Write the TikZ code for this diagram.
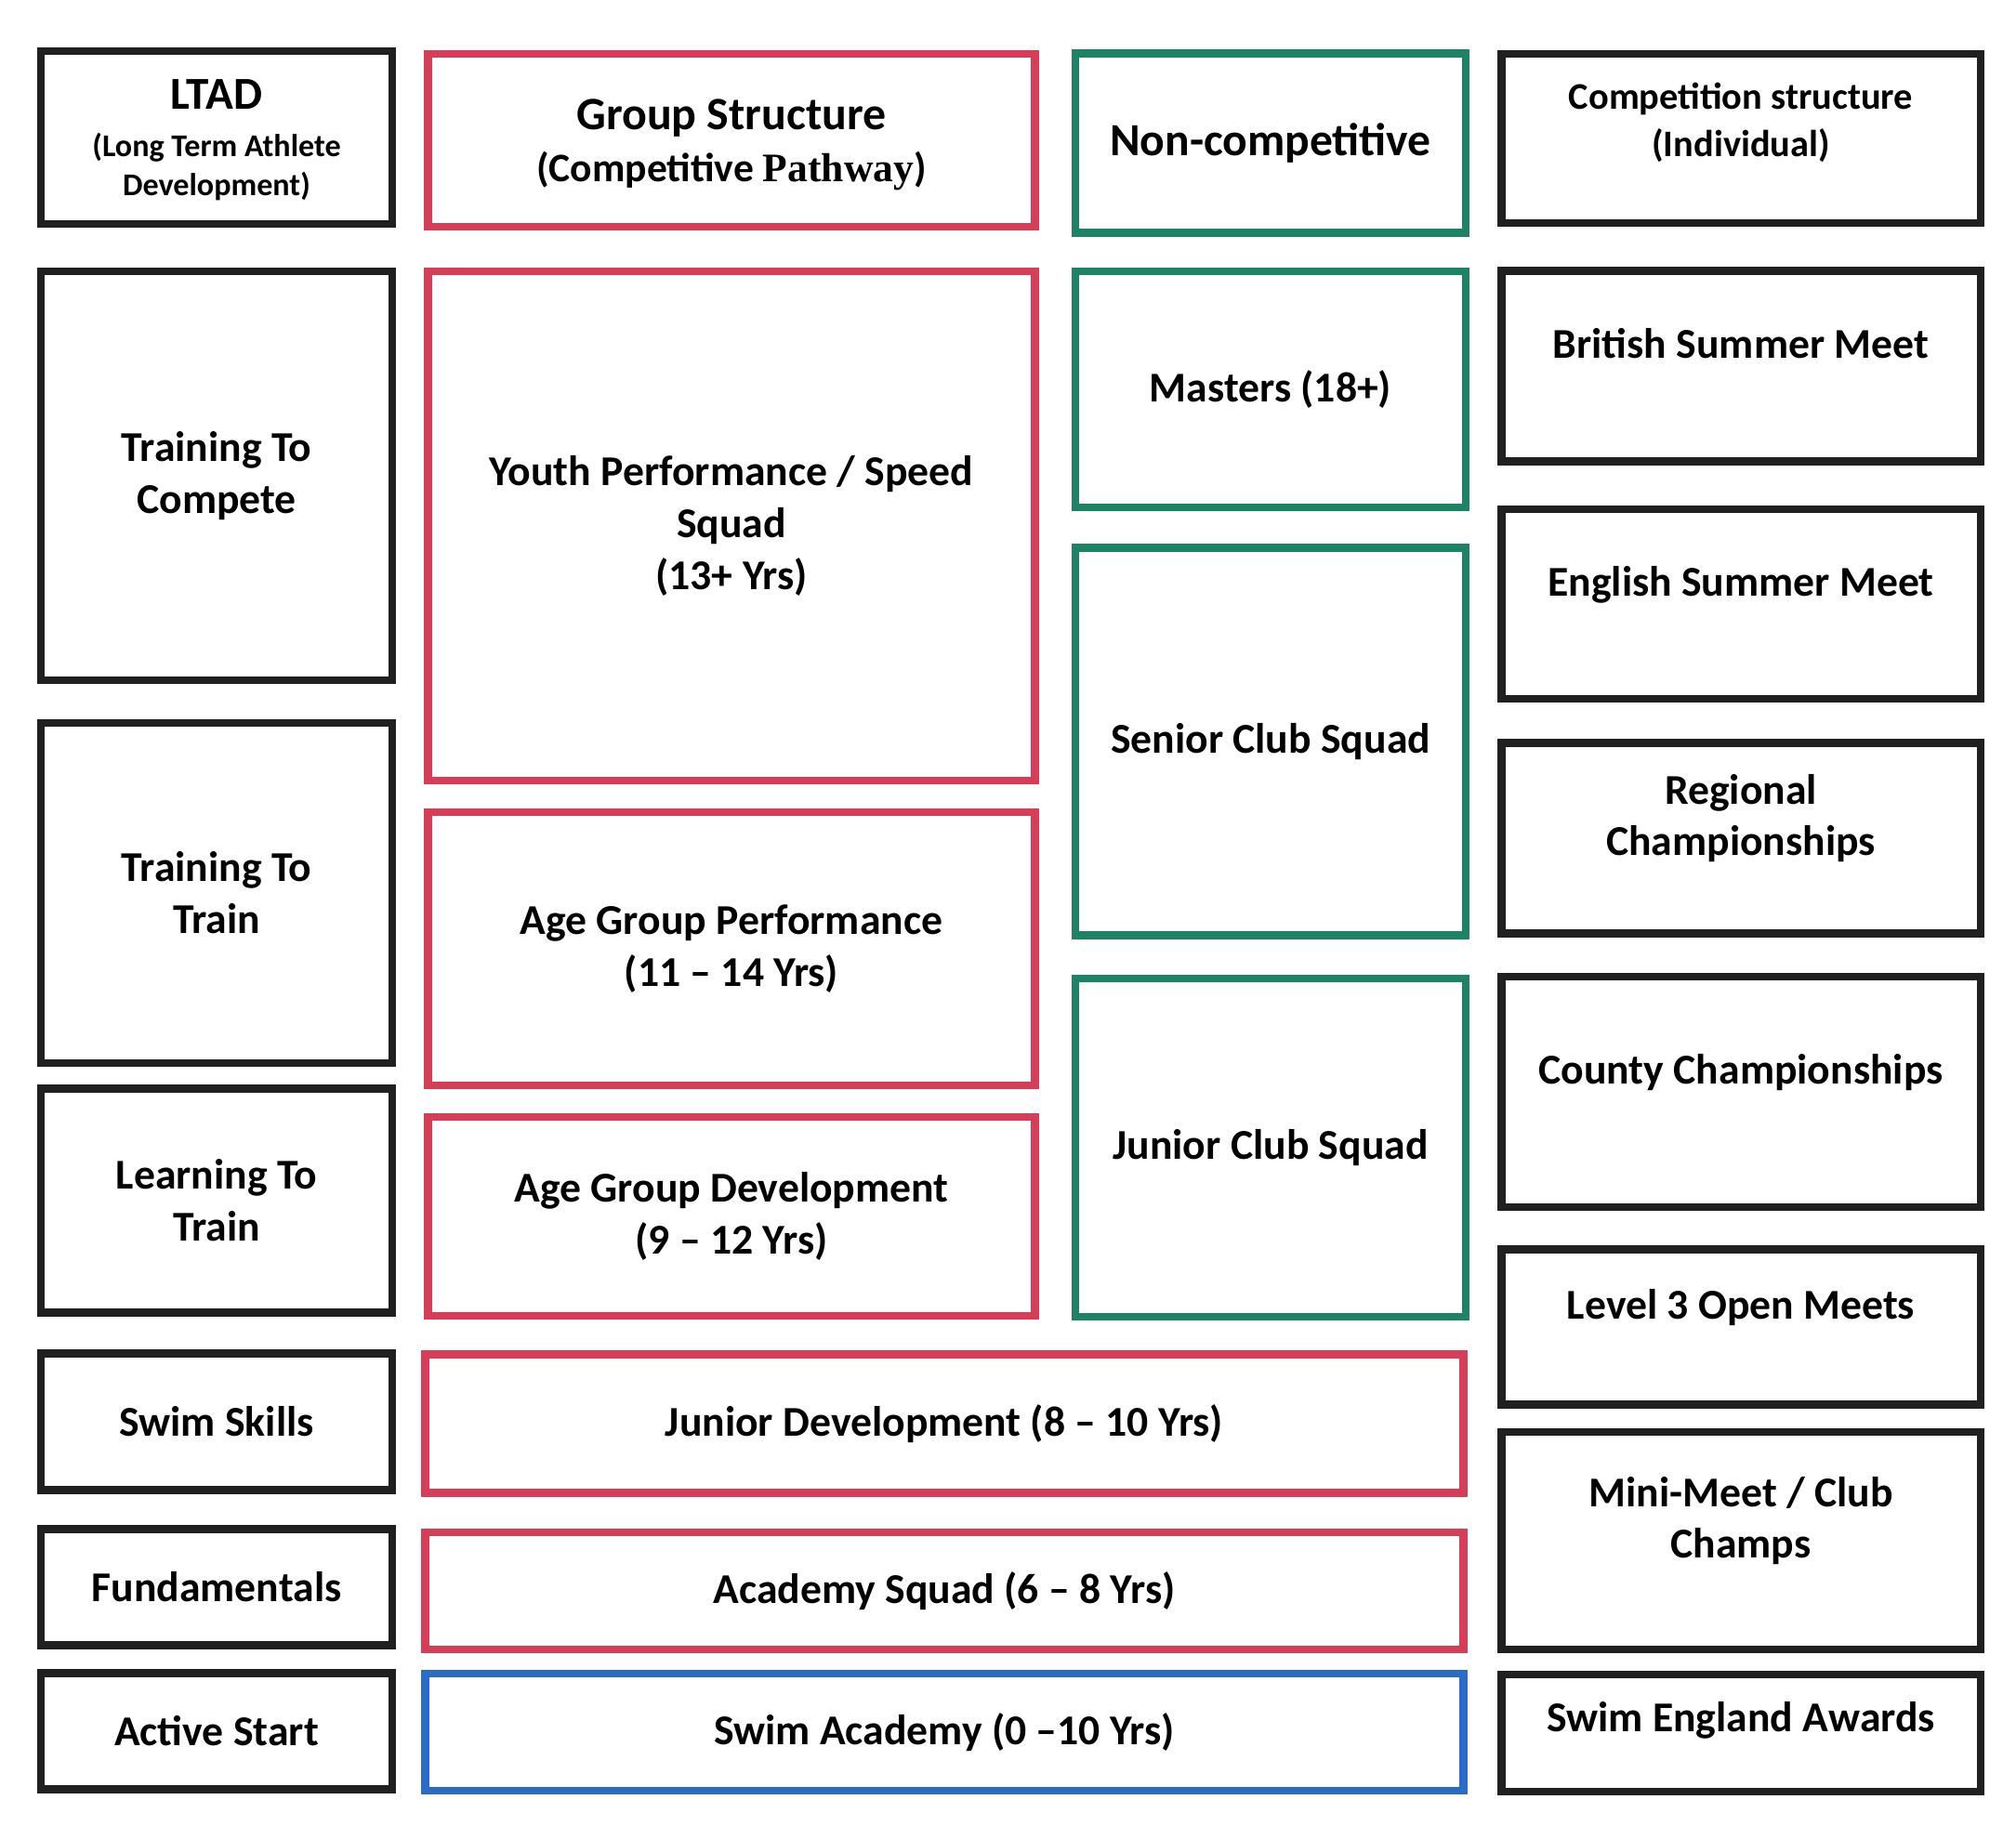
\documentclass[tikz,border=0pt]{standalone}
\usepackage{fontspec}
\setmainfont{Carlito}
\newfontfamily\pathfont{Liberation Serif}
\newcommand{\ltadsub}{\fontsize{9.7}{11.8}\selectfont}
\newcommand{\compsub}{\fontsize{11.5}{14.5}\selectfont}
\definecolor{ltadblack}{RGB}{32,32,32}
\definecolor{groupred}{RGB}{214,62,88}
\definecolor{noncompgreen}{RGB}{28,132,100}
\definecolor{academyblue}{RGB}{40,108,200}
\begin{document}
\begin{tikzpicture}[
	box/.style={draw=#1, line width=2.3pt, align=center, inner sep=2pt,
		font=\bfseries\fontsize{13}{15.9}\selectfont},
	box/.default=ltadblack,
	wh/.style 2 args={minimum width=#1cm, minimum height=#2cm},
	upper/.style={text depth=#1cm},
	upper/.default=0.5
	]
	\useasboundingbox (0,0) rectangle (21.69,-19.78);
	% LTAD column
	\node[box, wh={3.78}{1.86}, font=\bfseries\ltadsub, upper=0] (ltad) at (2.33,-1.48)
		{\fontsize{14}{17}\selectfont LTAD\\[2.7pt]
		(Long Term Athlete\\Development)};
	\node[box, wh={3.78}{4.40}] (ttc) at (2.33,-5.12) {Training To\\Compete};
	\node[box, wh={3.78}{3.66}] (ttt) at (2.33,-9.61) {Training To\\Train};
	\node[box, wh={3.78}{2.41}] (ltt) at (2.33,-12.92) {Learning To\\Train};
	\node[box, wh={3.78}{1.47}] (skills) at (2.33,-15.30) {Swim Skills};
	\node[box, wh={3.78}{1.25}] (fund) at (2.33,-17.08) {Fundamentals};
	\node[box, wh={3.78}{1.25}] (active) at (2.33,-18.63) {Active Start};
	% group structure column
	\node[box=groupred, wh={6.53}{1.86}, upper=0] (group) at (7.87,-1.51)
		{\fontsize{14.2}{17}\selectfont Group Structure\\
		\fontsize{12.4}{15}\selectfont (Competitive {\pathfont Pathway})};
	\node[box=groupred, wh={6.53}{5.48}] (youth) at (7.87,-5.66)
		{Youth Performance / Speed\\Squad\\(13+ Yrs)};
	\node[box=groupred, wh={6.53}{2.94}] (agp) at (7.87,-10.21)
		{Age Group Performance\\(11 -- 14 Yrs)};
	\node[box=groupred, wh={6.53}{2.14}] (agd) at (7.87,-13.09)
		{Age Group Development\\(9 -- 12 Yrs)};
	\node[box=groupred, wh={11.17}{1.49}] (jdev) at (10.16,-15.32)
		{Junior Development (8 -- 10 Yrs)};
	\node[box=groupred, wh={11.17}{1.26}] (academy) at (10.16,-17.12)
		{Academy Squad (6 -- 8 Yrs)};
	\node[box=academyblue, wh={11.17}{1.26}] (swimacad) at (10.16,-18.64)
		{Swim Academy (0 --10 Yrs)};
	% non-competitive column
	\node[box=noncompgreen, wh={4.20}{1.93}] (noncomp) at (13.67,-1.54)
		{\fontsize{14.1}{17}\selectfont Non-competitive};
	\node[box=noncompgreen, wh={4.20}{2.54}] (masters) at (13.67,-4.19) {Masters (18+)};
	\node[box=noncompgreen, wh={4.20}{4.17}] (senior) at (13.67,-7.98) {Senior Club Squad};
	\node[box=noncompgreen, wh={4.20}{3.64}] (junior) at (13.67,-12.35) {Junior Club Squad};
	% competition column
	\node[box, wh={5.15}{1.82}, upper=0.4, font=\bfseries\compsub] (comp) at (18.73,-1.49)
		{Competition structure\\(Individual)};
	\node[box, wh={5.15}{2.05}, upper] (british) at (18.73,-3.94) {British Summer Meet};
	\node[box, wh={5.15}{2.04}, upper] (english) at (18.73,-6.50) {English Summer Meet};
	\node[box, wh={5.15}{2.05}, upper] (regional) at (18.73,-9.02) {Regional\\Championships};
	\node[box, wh={5.15}{2.48}, upper] (county) at (18.73,-11.75) {County Championships};
	\node[box, wh={5.15}{1.67}, upper] (level3) at (18.73,-14.28) {Level 3 Open Meets};
	\node[box, wh={5.15}{2.34}, upper] (minimeet) at (18.73,-16.58) {Mini-Meet / Club\\Champs};
	\node[box, wh={5.15}{1.26}, upper=0.35] (awards) at (18.73,-18.65) {Swim England Awards};
\end{tikzpicture}
\end{document}
